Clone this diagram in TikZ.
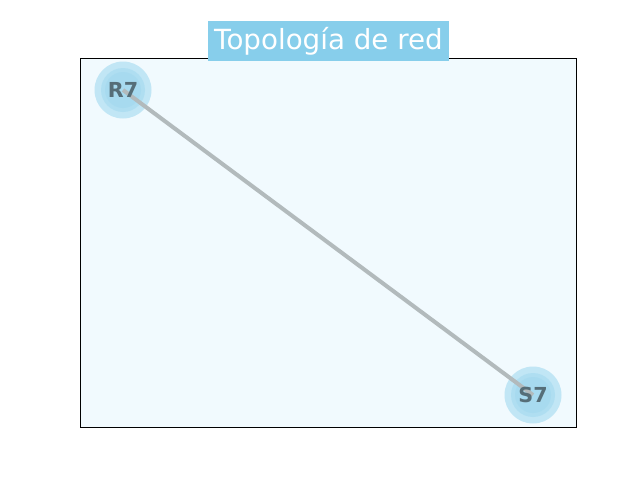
\documentclass[tikz,border=0pt]{standalone}
\usepackage{fontspec}
\setmainfont{DejaVu Sans}
\definecolor{axbg}{RGB}{241,250,254}
\definecolor{sky}{RGB}{135,206,235}
\definecolor{edgegray}{RGB}{178,186,188}
\definecolor{labelc}{RGB}{86,110,120}
\begin{document}
\begin{tikzpicture}[x=0.75pt,y=-0.75pt,
  ring/.style={circle,inner sep=0pt,fill=sky,draw=none},
  outerring/.style={ring,minimum size=57pt*0.75,fill opacity=0.45},
  midring/.style={ring,minimum size=44pt*0.75,fill opacity=0.3},
  innerring/.style={ring,minimum size=36pt*0.75,fill opacity=0.2},
  lab/.style={text=labelc,font=\bfseries\fontsize{15.5}{18}\selectfont,inner sep=0pt},
  link/.style={draw=edgegray,line width=3pt},
  titlebox/.style={fill=sky,text=white,font=\fontsize{20.8}{24}\selectfont,inner xsep=5pt,inner ysep=0pt,minimum height=30pt}]
\useasboundingbox (0,0) rectangle (640,480);
\fill[white] (0,0) rectangle (640,480);
\draw[fill=axbg,line width=0.6pt] (80,58) rectangle (576,427);
% node rings
\node[outerring] (r7) at (123,90) {};
\node[midring] (r7m) at (r7) {};
\node[innerring] (r7i) at (r7) {};
\node[outerring] (s7) at (533,395) {};
\node[midring] (s7m) at (s7) {};
\node[innerring] (s7i) at (s7) {};
% edge
\draw[link] (r7.center) -- (s7.center);
% labels
\node[lab] (r7l) at (r7) {R7};
\node[lab] (s7l) at (s7) {S7};
% title
\node[titlebox] (title) at (328.5,41) {Topología de red};
\end{tikzpicture}
\end{document}
